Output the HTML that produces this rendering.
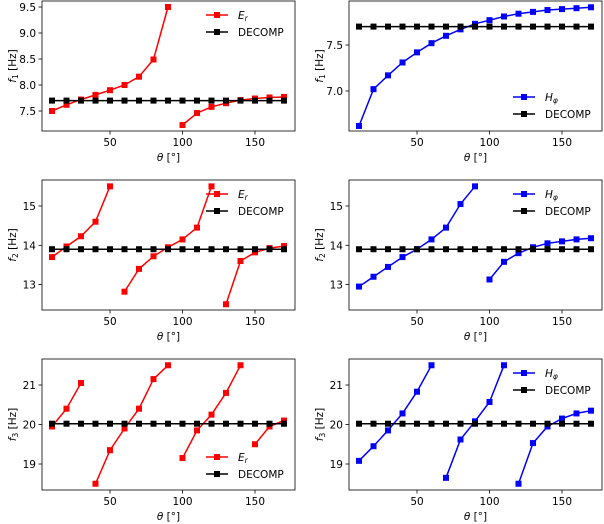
<!DOCTYPE html><html><head><style>body{margin:0;background:#fff}svg{display:block;font-family:"DejaVu Sans","Liberation Sans",sans-serif}</style></head><body>
<svg id="s" width="604" height="524" xmlns="http://www.w3.org/2000/svg"></svg>
<script>
const S=document.getElementById('s');let h='';
function X(ox,t){return ox+110+(t-50)*1.45;}
const th=[];for(let t=10;t<=170;t+=10)th.push(t);
function panel(o){
 const {ox,top,bot,y0,v0,ppu,ticks,segs,col,name,sub,dec,leg,ylab}=o;
 const Y=v=>y0+(v0-v)*ppu;
 const L=ox+42,R=ox+295;
 const draw=(pts,c)=>{h+=`<polyline fill="none" stroke="${c}" stroke-width="1.5" points="${pts.map(p=>X(ox,p[0]).toFixed(1)+','+Y(p[1]).toFixed(1)).join(' ')}"/>`;pts.forEach(p=>h+=`<rect x="${X(ox,p[0])-3}" y="${Y(p[1])-3}" width="6" height="6" fill="${c}"/>`);};
 segs.forEach(s=>draw(s,col));
 draw(th.map(t=>[t,dec]),'#000');
 h+=`<rect x="${L}" y="${top}" width="${R-L}" height="${bot-top}" fill="none" stroke="#000" stroke-width="0.8"/>`;
 ticks.forEach(v=>{const y=Y(v);h+=`<line x1="${L-3.5}" x2="${L}" y1="${y}" y2="${y}" stroke="#000" stroke-width="0.8"/><text x="${L-6}" y="${y+4}" font-size="10.5" text-anchor="end">${v}</text>`;});
 [50,100,150].forEach(t=>{const x=X(ox,t);h+=`<line x1="${x}" x2="${x}" y1="${bot}" y2="${bot+3.5}" stroke="#000" stroke-width="0.8"/><text x="${x}" y="${bot+15}" font-size="10.5" text-anchor="middle">${t}</text>`;});
 h+=`<text x="${(L+R)/2}" y="${bot+30}" font-size="10.5" text-anchor="middle"><tspan font-style="italic">θ</tspan> [°]</text>`;
 const cy=(top+bot)/2;h+=`<text transform="translate(${ox+16},${cy}) rotate(-90)" font-size="10.5" text-anchor="middle"><tspan font-style="italic">f</tspan><tspan font-size="7.5" dy="2">${ylab}</tspan><tspan dy="-2"> [Hz]</tspan></text>`;
 const lx=ox+206,ly=leg;
 h+=`<line x1="${lx}" x2="${lx+22}" y1="${ly}" y2="${ly}" stroke="${col}" stroke-width="1.5"/><rect x="${lx+8}" y="${ly-3}" width="6" height="6" fill="${col}"/><text x="${lx+32}" y="${ly+4}" font-size="10.5"><tspan font-style="italic">${name}</tspan><tspan font-size="7.5" dy="2" font-style="italic">${sub}</tspan></text>`;
 h+=`<line x1="${lx}" x2="${lx+22}" y1="${ly+17}" y2="${ly+17}" stroke="#000" stroke-width="1.5"/><rect x="${lx+8}" y="${ly+14}" width="6" height="6" fill="#000"/><text x="${lx+32}" y="${ly+21}" font-size="10.5">DECOMP</text>`;
}
const z=(a,v)=>a.map((t,i)=>[t,v[i]]);
panel({ox:0,top:1,bot:131,y0:7,v0:9.5,ppu:52,ticks:['7.5','8.0','8.5','9.0','9.5'],col:'#f00',name:'E',sub:'r',dec:7.7,leg:15,ylab:'1',
 segs:[z([10,20,30,40,50,60,70,80,90],[7.5,7.62,7.72,7.81,7.9,8.0,8.16,8.49,9.5]),z([100,110,120,130,140,150,160,170],[7.23,7.46,7.58,7.65,7.71,7.74,7.76,7.77])]});
panel({ox:307,top:1,bot:131,y0:45,v0:7.5,ppu:92,ticks:['7.0','7.5'],col:'#00f',name:'H',sub:'φ',dec:7.7,leg:97,ylab:'1',
 segs:[z(th,[6.62,7.02,7.17,7.31,7.42,7.52,7.6,7.67,7.73,7.77,7.81,7.84,7.86,7.88,7.89,7.9,7.91])]});
panel({ox:0,top:180,bot:310,y0:206,v0:15,ppu:39.3,ticks:[13,14,15],col:'#f00',name:'E',sub:'r',dec:13.9,leg:194,ylab:'2',
 segs:[z([10,20,30,40,50],[13.7,13.97,14.23,14.6,15.5]),z([60,70,80,90,100,110,120],[12.82,13.4,13.72,13.95,14.15,14.45,15.5]),z([130,140,150,160,170],[12.5,13.6,13.82,13.93,13.98])]});
panel({ox:307,top:180,bot:310,y0:206,v0:15,ppu:39.3,ticks:[13,14,15],col:'#00f',name:'H',sub:'φ',dec:13.9,leg:194,ylab:'2',
 segs:[z([10,20,30,40,50,60,70,80,90],[12.95,13.2,13.45,13.7,13.9,14.15,14.45,15.05,15.5]),z([100,110,120,130,140,150,160,170],[13.13,13.58,13.8,13.95,14.05,14.1,14.15,14.18])]});
panel({ox:0,top:359,bot:490,y0:385,v0:21,ppu:39.5,ticks:[19,20,21],col:'#f00',name:'E',sub:'r',dec:20.02,leg:457,ylab:'3',
 segs:[z([10,20,30],[19.95,20.4,21.05]),z([40,50,60,70,80,90],[18.5,19.35,19.9,20.4,21.15,21.5]),z([100,110,120,130,140],[19.15,19.85,20.25,20.8,21.5]),z([150,160,170],[19.5,19.95,20.1])]});
panel({ox:307,top:359,bot:490,y0:385,v0:21,ppu:39.5,ticks:[19,20,21],col:'#00f',name:'H',sub:'φ',dec:20.02,leg:373,ylab:'3',
 segs:[z([10,20,30,40,50,60],[19.08,19.45,19.85,20.28,20.83,21.5]),z([70,80,90,100,110],[18.65,19.62,20.08,20.57,21.5]),z([120,130,140,150,160,170],[18.5,19.53,19.95,20.15,20.28,20.35])]});
S.innerHTML=h;
</script></body></html>
